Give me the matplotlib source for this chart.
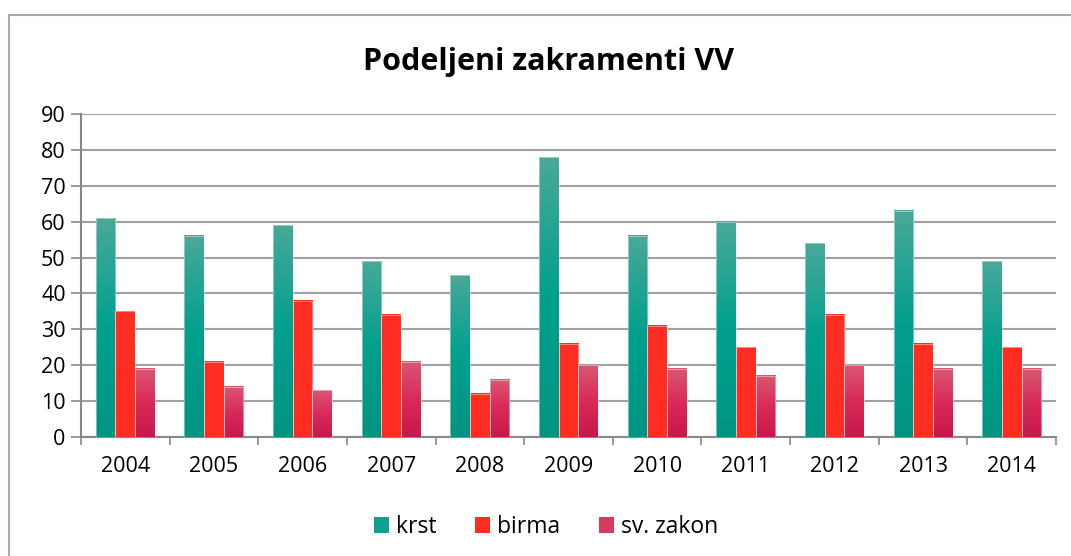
import numpy as np
import matplotlib.pyplot as plt
from matplotlib.colors import LinearSegmentedColormap
from matplotlib.patches import Rectangle

years = ['2004', '2005', '2006', '2007', '2008', '2009', '2010', '2011', '2012', '2013', '2014']
krst = [61, 56, 59, 49, 45, 78, 56, 60, 54, 63, 49]
birma = [35, 21, 38, 34, 12, 26, 31, 25, 34, 26, 25]
zakon = [19, 14, 13, 21, 16, 20, 19, 17, 20, 19, 19]

series = [('krst', krst), ('birma', birma), ('sv. zakon', zakon)]

# vertical gradients (bottom -> top)
cmaps = [
    LinearSegmentedColormap.from_list('teal', ['#009482', '#00A08D', '#49A999']),
    LinearSegmentedColormap.from_list('red', ['#FF2D22', '#FF2D22']),
    LinearSegmentedColormap.from_list('pink', ['#C8184A', '#DA2A5A', '#D95772']),
]
solid = ['#0FA08F', '#FF2D22', '#D53A60']

plt.rcParams['font.family'] = ['Open Sans', 'DejaVu Sans']

fig = plt.figure(figsize=(10.71, 5.56), dpi=100)
ax = fig.add_axes([0.0756, 0.214, 0.9104, 0.581])

# outer chart frame
fig.patches.append(Rectangle((9 / 1071, -0.05), 1.0, (556 - 15) / 556 + 0.05,
                             transform=fig.transFigure, fill=False,
                             edgecolor='#A8A8A8', linewidth=1.5, zorder=0))

x = np.arange(len(years))
w = 0.222
grad = np.linspace(0, 1, 256).reshape(-1, 1)
for i, (name, vals) in enumerate(series):
    for xi, v in zip(x, vals):
        x0 = xi + (i - 1) * w - w / 2
        ax.imshow(grad, extent=[x0, x0 + w, 0, v], origin='lower', aspect='auto',
                  cmap=cmaps[i], zorder=3)
        ax.add_patch(Rectangle((x0, 0), w, v, fill=False, edgecolor='#FFFFFF',
                               linewidth=0.6, alpha=0.5, zorder=4))
    ax.bar([0], [0], color=solid[i], label=name)

ax.set_xlim(-0.5, len(years) - 0.5)
ax.set_ylim(0, 90)
ax.set_yticks(range(0, 91, 10))
ax.set_xticks(x)
ax.set_xticklabels(years)
ax.set_xticks(np.arange(-0.5, len(years), 1), minor=True)
ax.tick_params(axis='x', which='major', length=0, pad=14, labelsize=15.5)
ax.tick_params(axis='x', which='minor', length=6, width=1.2, color='#888888')
ax.tick_params(axis='y', length=7, width=1.2, color='#888888', labelsize=15.5, pad=4)
ax.grid(axis='y', color='#A0A0A0', linewidth=1.5, zorder=1)
ax.set_axisbelow(True)
for s in ['top', 'right']:
    ax.spines[s].set_visible(False)
ax.spines['left'].set_color('#888888')
ax.spines['bottom'].set_color('#888888')
ax.spines['left'].set_linewidth(1.5)
ax.spines['bottom'].set_linewidth(1.5)

fig.text(0.512, 0.888, 'Podeljeni zakramenti VV', ha='center', va='center',
         fontsize=22, fontweight='bold', color='#000000')

fig.legend(loc='center', bbox_to_anchor=(0.51, 0.052), ncol=3, frameon=False,
           fontsize=16.5, handlelength=0.65, handleheight=0.65, handletextpad=0.3,
           columnspacing=1.7)

fig.savefig('out.png', dpi=100)
